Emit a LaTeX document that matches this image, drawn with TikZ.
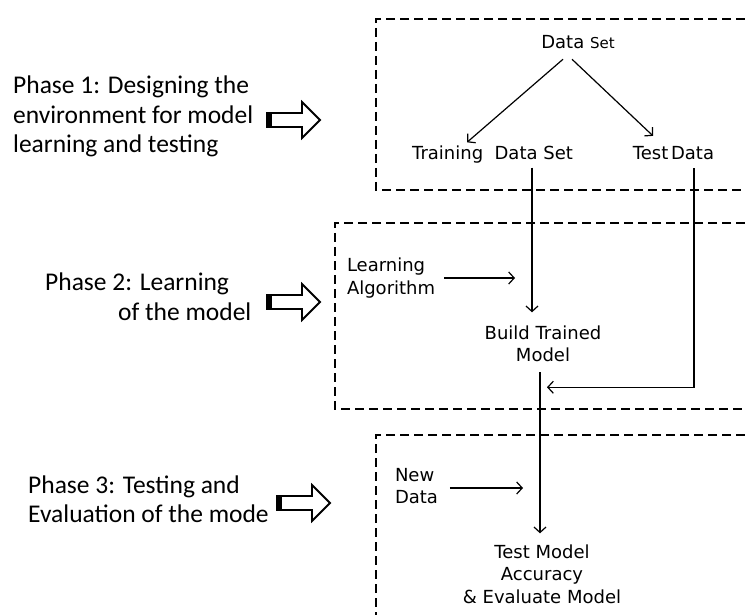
\documentclass[tikz,border=0pt]{standalone}
\usepackage{fontspec}
\setmainfont{DejaVu Sans}
\newfontfamily\phasefont{Carlito}
\usetikzlibrary{arrows.meta,calc}

\begin{document}
\begin{tikzpicture}[x=1pt,y=-1pt,
  phasebox/.style={draw,line width=2.8pt,dash pattern=on 9pt off 5pt},
  lbl/.style={font=\fontsize{18}{22.5}\selectfont,inner sep=0pt,outer sep=0pt,align=center,anchor=base},
  lbll/.style={lbl,align=left,anchor=base west},
  phase/.style={font=\phasefont\fontsize{25.5}{29.3}\selectfont,inner sep=0pt,align=left,anchor=base west},
  flow/.style={draw,line width=1.2pt,-{Straight Barb[length=5.5pt,width=12pt]}},
  blockarrow/.pic={
    \fill (0,-7) rectangle (5,7);
    \draw[line width=1.8pt,line join=miter]
      (0,-7) -- (35,-7) -- (35,-18) -- (53,0) -- (35,18) -- (35,7) -- (0,7) -- cycle;
  }
]
\useasboundingbox (0,0) rectangle (745,615);

% dashed phase frames (open on the right / bottom)
\draw[phasebox] (745,19) -- (376,19) -- (376,190) -- (745,190);
\draw[phasebox] (745,223) -- (335,223) -- (335,409) -- (745,409);
\draw[phasebox] (745,435) -- (376,435) -- (376,620);

% phase descriptions (placed by the baseline of their last line)
\node[phase] (p1) at (13,152.5) {Phase 1: Designing the\\environment for model\\learning and testing};
\node[phase] (p2) at (45,320) {Phase 2: Learning\\\hspace*{73pt}of the model};
\node[phase] (p3) at (28,522.5) {Phase 3: Testing and\\Evaluation of the mode};

\pic at (267,120) {blockarrow};
\pic at (267,302) {blockarrow};
\pic at (277,503) {blockarrow};

% phase 1 contents
\node[lbl] (ds) at (578,49) {Data {\fontsize{15}{18}\selectfont Set}};
\node[lbl] (train) at (492.5,160) {Training\ \ Data Set};
\node[lbl] (test) at (673.5,160) {Test\hspace{0.15em}Data};

% phase 2 contents
\node[lbll] (learn) at (347,294) {Learning\\Algorithm};
\node[lbl] (build) at (543,361.5) {Build Trained\\Model};
\coordinate (la) at (515,278);

% phase 3 contents
\node[lbll] (newd) at (395,503.5) {New\\Data};
\node[lbl] (tm) at (542,603) {Test Model\\Accuracy\\\& Evaluate Model};
\coordinate (nd) at (523,488);

% connectors
\draw[flow] ([xshift=-15pt,yshift=-10pt]ds.south) -- ([xshift=-25.5pt,yshift=4pt]train.north);
\draw[flow] ([xshift=-6pt,yshift=-10pt]ds.south) -- ([xshift=-20.5pt,yshift=11pt]test.north);
\draw[flow] ([xshift=39.5pt,yshift=-4pt]train.south) -- ([xshift=-11pt,yshift=13pt]build.north);
\draw[flow] ([xshift=20.5pt,yshift=-8pt]test.south) |- ([xshift=4pt,yshift=-25.5pt]build.south);
\draw[flow] ([xshift=-3pt,yshift=-10.5pt]build.south) -- ([xshift=-2pt,yshift=11pt]tm.north);
\draw[flow] ([xshift=9pt]learn.east |- la) -- (la);
\draw[flow] ([xshift=12pt]newd.east |- nd) -- (nd);
\end{tikzpicture}
\end{document}
